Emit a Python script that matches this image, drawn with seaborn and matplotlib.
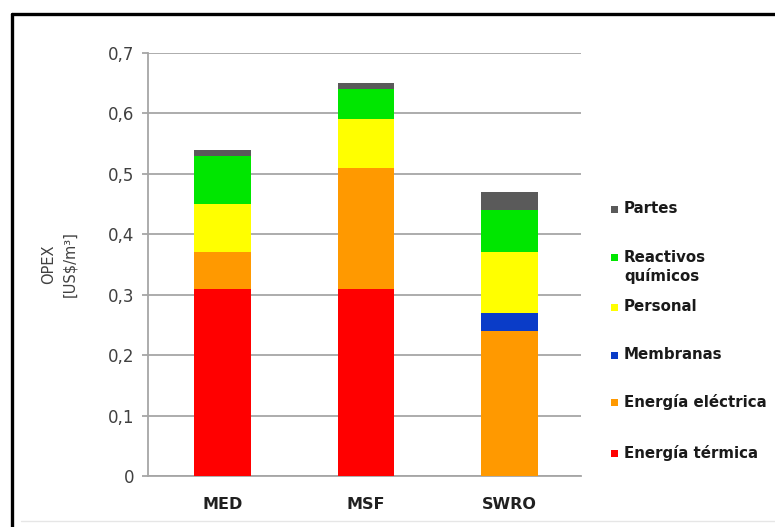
import matplotlib
matplotlib.use("Agg")
import matplotlib.pyplot as plt
from matplotlib.lines import Line2D
from matplotlib.patches import Rectangle
from matplotlib.ticker import FuncFormatter
import numpy as np
import pandas as pd
import seaborn as sns

# OPEX breakdown per desalination technology (US$/m3)
plants = ["MED", "MSF", "SWRO"]
energia_termica = [0.31, 0.31, 0.00]
energia_electrica = [0.06, 0.20, 0.24]
membranas = [0.00, 0.00, 0.03]
personal = [0.08, 0.08, 0.10]
reactivos = [0.08, 0.05, 0.07]
partes = [0.01, 0.01, 0.03]

components = ["Energía térmica", "Energía eléctrica", "Membranas",
              "Personal", "Reactivos\nquímicos", "Partes"]
series = [energia_termica, energia_electrica, membranas, personal, reactivos, partes]
colors = ["#ff0000", "#ff9900", "#0a3cc8", "#ffff00", "#00e600", "#5a5a5a"]

yticks = [0, 0.1, 0.2, 0.3, 0.4, 0.5, 0.6, 0.7]

sns.set_style("white")
plt.rcParams["font.family"] = ["DejaVu Sans"]

W, H = 775, 527
fig = plt.figure(figsize=(W / 100, H / 100), dpi=100)
ax = fig.add_axes([148 / W, 1 - 476 / H, 433 / W, 423 / H])

# stacked bars: draw cumulative totals from the top segment downwards
cum = np.cumsum(np.array(series), axis=0)
for i in range(len(series) - 1, -1, -1):
    df = pd.DataFrame({"plant": plants, "value": cum[i]})
    sns.barplot(data=df, x="plant", y="value", color=colors[i], width=0.395,
                saturation=1, ax=ax, zorder=3, linewidth=0)

ax.set_ylim(0, 0.7)
ax.set_xlim(-0.519, 2.498)
ax.set_yticks(yticks)
ax.yaxis.set_major_formatter(FuncFormatter(
    lambda v, p: "0" if abs(v) < 1e-9 else f"{v:.1f}".replace(".", ",")))
ax.grid(axis="y", color="#a6a6a6", linewidth=1.3, zorder=0)
ax.set_axisbelow(True)
for s in ["top", "right"]:
    ax.spines[s].set_visible(False)
for s in ["left", "bottom"]:
    ax.spines[s].set_color("#a6a6a6")
    ax.spines[s].set_linewidth(1.3)
ax.tick_params(axis="y", length=4, width=1.3, color="#a6a6a6", pad=6,
               labelsize=12, labelcolor="#404040", left=True)
ax.tick_params(axis="x", length=0, pad=15, labelsize=11.5, labelcolor="#202020")
for t in ax.get_xticklabels():
    t.set_fontweight("bold")
ax.set_xlabel("")
ax.set_ylabel("OPEX\n[US$/m³]", fontsize=10.5, color="#404040",
              linespacing=1.5)
ax.yaxis.set_label_coords(-0.164, 0.5)

# legend, top entry first
legend_y = [209, 258, 307, 355, 402, 453]
for name, col, ypx in zip(components[::-1], colors[::-1], legend_y):
    yf = 1 - ypx / H
    fig.patches.append(Rectangle((611 / W, yf - 3.5 / H), 7 / W, 7 / H,
                                 transform=fig.transFigure, facecolor=col,
                                 edgecolor="none"))
    fig.text(624 / W, yf + 8 / H, name, fontsize=10.8, fontweight="bold",
             color="#1a1a1a", va="top", ha="left", linespacing=1.2)

# outer frame
fig.add_artist(Line2D([12 / W, 1], [1 - 14 / H, 1 - 14 / H],
                      transform=fig.transFigure, color="black", lw=2.4))
fig.add_artist(Line2D([12 / W, 12 / W], [0, 1 - 14 / H],
                      transform=fig.transFigure, color="black", lw=2.4))
fig.add_artist(Line2D([21 / W, 1], [1 - 521 / H, 1 - 521 / H],
                      transform=fig.transFigure, color="#e6e6e6", lw=1))

fig.savefig("out.png", dpi=100)
